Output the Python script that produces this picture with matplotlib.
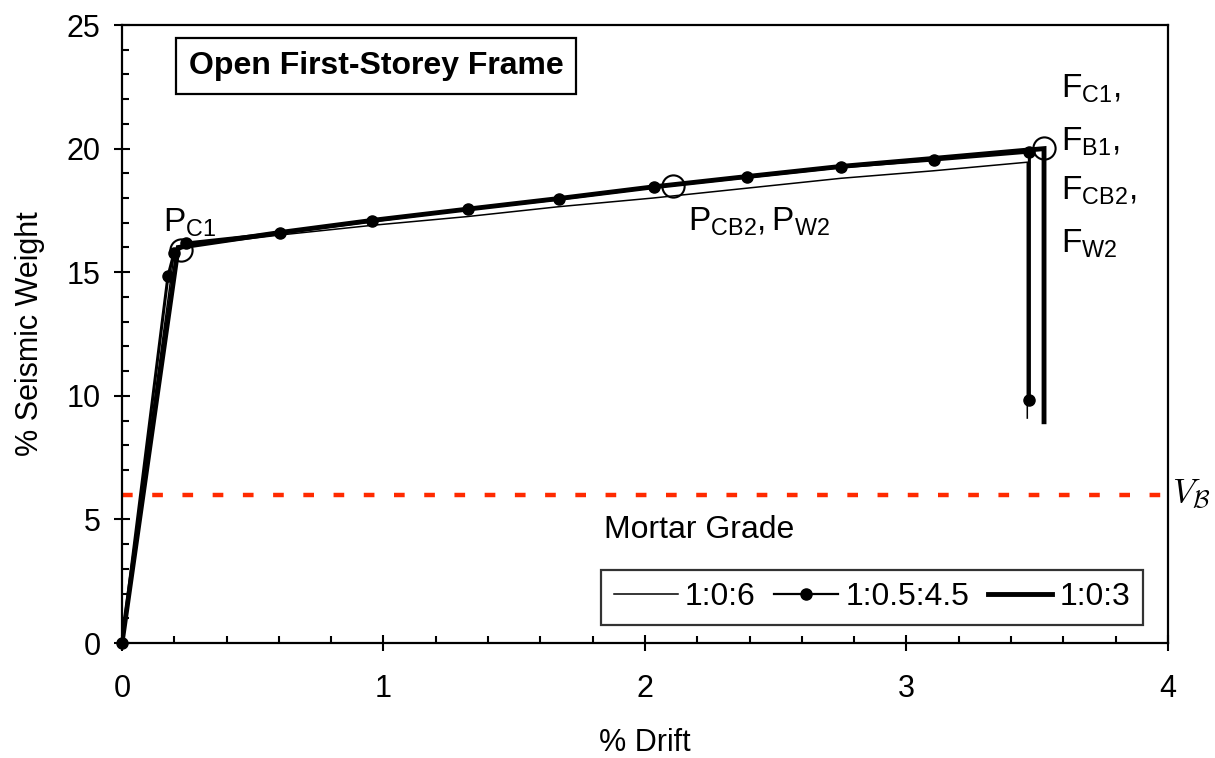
import matplotlib
matplotlib.use("Agg")
import matplotlib.pyplot as plt
from matplotlib.ticker import MultipleLocator
from matplotlib.lines import Line2D

plt.rcParams['font.family'] = ['Liberation Sans', 'DejaVu Sans']
plt.rcParams['mathtext.fontset'] = 'custom'
plt.rcParams['mathtext.rm'] = 'Liberation Sans'
plt.rcParams['mathtext.it'] = 'Liberation Sans'

# Pushover curves (drift %, base shear as % of seismic weight)
drift_106 = [0.0, 0.20, 0.245, 0.60, 0.96, 1.32, 1.67, 2.03, 2.39, 2.75, 3.10, 3.462, 3.462]
shear_106 = [0.0, 15.8, 16.05, 16.5, 16.9, 17.25, 17.65, 18.0, 18.4, 18.8, 19.1, 19.45, 9.1]

drift_1_05_45 = [0.0, 0.176, 0.199, 0.245, 0.604, 0.956, 1.323, 1.671, 2.034, 2.39, 2.75, 3.105, 3.47, 3.47]
shear_1_05_45 = [0.0, 14.85, 15.78, 16.18, 16.59, 17.07, 17.56, 17.96, 18.45, 18.85, 19.26, 19.54, 19.86, 9.83]

drift_103 = [0.0, 0.215, 0.60, 0.96, 1.32, 1.67, 2.03, 2.39, 2.75, 3.10, 3.526, 3.526]
shear_103 = [0.0, 16.0, 16.6, 17.1, 17.55, 17.98, 18.45, 18.87, 19.28, 19.6, 20.0, 8.95]

# Performance points marked with open circles
event_drift = [0.226, 2.107, 3.526]
event_shear = [15.9, 18.49, 20.02]

base_shear_design = 6.0
legend_labels = ['1:0:6', '1:0.5:4.5', '1:0:3']

fig = plt.figure(figsize=(12.15, 7.58), dpi=100)
ax = fig.add_axes([0.1004, 0.1517, 0.8609, 0.8153])

ax.plot(drift_106, shear_106, color='black', lw=1.1, solid_joinstyle='miter')
ax.plot(drift_1_05_45, shear_1_05_45, color='black', lw=2.2, marker='o', ms=8,
        clip_on=False, zorder=3)
ax.plot(drift_103, shear_103, color='black', lw=3.5, solid_joinstyle='miter')
ax.plot(event_drift, event_shear, ls='none', marker='o', ms=16, mfc='none',
        mec='black', mew=1.5, zorder=4)

ax.axhline(base_shear_design, color='#ff2a00', lw=3.2, dashes=(2.4, 4.4),
           dash_capstyle='butt')

ax.set_xlim(0, 4)
ax.set_ylim(0, 25)
ax.xaxis.set_major_locator(MultipleLocator(1))
ax.xaxis.set_minor_locator(MultipleLocator(0.2))
ax.yaxis.set_major_locator(MultipleLocator(5))
ax.yaxis.set_minor_locator(MultipleLocator(1))
ax.tick_params(which='major', direction='inout', length=11, width=1.5, labelsize=22)
ax.tick_params(axis='x', which='major', pad=17)
ax.tick_params(axis='y', which='major', pad=10)
ax.tick_params(which='minor', direction='in', length=5, width=1.5)
for s in ax.spines.values():
    s.set_linewidth(1.6)

ax.set_xlabel('% Drift', fontsize=22, labelpad=17)
ax.set_ylabel('% Seismic Weight', fontsize=22, labelpad=15)

# Title box
ax.text(0.243, 0.934, 'Open First-Storey Frame', transform=ax.transAxes,
        fontsize=23, fontweight='bold', ha='center', va='center',
        bbox=dict(boxstyle='square,pad=0.4', fc='white', ec='black', lw=1.6))

# Event annotations
lab_kw = dict(fontsize=24, ha='left', va='baseline')
ax.text(0.157, 16.63, r'$\mathregular{P_{C1}}$', **lab_kw)
ax.text(2.165, 16.67, r'$\mathregular{P_{CB2}, P_{W2}}$', **lab_kw)
ax.text(3.59, 22.05, r'$\mathregular{F_{C1},}$', **lab_kw)
ax.text(3.59, 19.9, r'$\mathregular{F_{B1},}$', **lab_kw)
ax.text(3.59, 17.92, r'$\mathregular{F_{CB2},}$', **lab_kw)
ax.text(3.59, 15.78, r'$\mathregular{F_{W2}}$', **lab_kw)

ax.text(1.004, base_shear_design, r'$V_{\mathcal{B}}$',
        transform=ax.get_yaxis_transform(), fontsize=25, ha='left',
        va='center', math_fontfamily='cm')

ax.text(0.461, 0.183, 'Mortar Grade', transform=ax.transAxes, fontsize=23,
        ha='left', va='center')

handles = [
    Line2D([], [], color='black', lw=1.1),
    Line2D([], [], color='black', lw=1.6, marker='o', ms=8),
    Line2D([], [], color='black', lw=3.5),
]
leg = ax.legend(handles, legend_labels, ncol=3, loc='lower right',
                bbox_to_anchor=(0.976, 0.029), fontsize=23, frameon=True,
                fancybox=False, edgecolor='black', handlelength=2.0,
                handletextpad=0.22, columnspacing=0.6, borderpad=0.4,
                borderaxespad=0)
leg.get_frame().set_linewidth(1.6)

fig.savefig('out.png', dpi=100)
